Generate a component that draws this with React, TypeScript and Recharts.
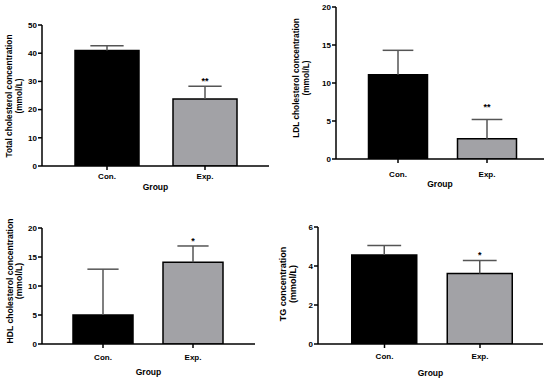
import { BarChart, Bar, XAxis, YAxis, LabelList, Cell } from "recharts";

const groups = ["Con.", "Exp."];

const totalMean = [41.0, 23.8];
const totalSd = [1.6, 4.5];
const totalSig = ["", "**"];

const ldlMean = [11.1, 2.65];
const ldlSd = [3.2, 2.55];
const ldlSig = ["", "**"];

const hdlMean = [5.0, 14.1];
const hdlSd = [7.9, 2.8];
const hdlSig = ["", "*"];

const tgMean = [4.57, 3.62];
const tgSd = [0.48, 0.66];
const tgSig = ["", "*"];

const totalTicks = [0, 10, 20, 30, 40, 50];
const ldlTicks = [0, 5, 10, 15, 20];
const hdlTicks = [0, 5, 10, 15, 20];
const tgTicks = [0, 2, 4, 6];

const FONT = "'Liberation Sans', Arial, Helvetica, sans-serif";
const barFills = ["#000000", "#a2a2a6"];

const makeRows = (mean: number[], sd: number[], sig: string[]) =>
  groups.map((g, i) => ({ group: g, mean: mean[i], sd: sd[i], sig: sig[i] }));

// error bar drawn on the stacked "sd" segment (top = mean + sd)
const ErrShape = (props: any) => {
  const { x, y, width, height } = props;
  const cx = x + width / 2;
  const half = width * 0.26;
  return (
    <g stroke="#555" strokeWidth={1.5}>
      <line x1={cx} x2={cx} y1={y} y2={y + height} />
      <line x1={cx - half} x2={cx + half} y1={y} y2={y} />
    </g>
  );
};

const YLabel = ({ lines, xs, cy, size }: any) => (
  <g>
    {lines.map((t: string, i: number) => (
      <text
        key={i}
        x={xs[i]}
        y={cy}
        transform={`rotate(-90 ${xs[i]} ${cy})`}
        textAnchor="middle"
        dominantBaseline="central"
        fontFamily={FONT}
        fontWeight="bold"
        fontSize={size}
        fill="#000"
      >
        {t}
      </text>
    ))}
  </g>
);

const GroupLabel = ({ gx, gy }: any) => (
  <text x={gx} y={gy} textAnchor="middle" fontFamily={FONT} fontWeight="bold" fontSize={8.5} fill="#000">
    Group
  </text>
);

type PanelProps = {
  left: number;
  top: number;
  axisX: number;
  plotTop: number;
  plotBottom: number;
  plotRight: number;
  pad: [number, number];
  barSize: number;
  domain: [number, number];
  ticks: number[];
  rows: any[];
  ylines: string[];
  ylineX: number[];
  ylabelY: number;
  ylabelSize: number;
  tickMargin: number;
  groupDy: number;
  starGap: number;
};

const W = 275;
const H = 200;
const XH = 40;

const Panel = (p: PanelProps) => {
  const margin = {
    top: p.plotTop - p.top,
    right: p.left + W - p.plotRight,
    left: 0,
    bottom: H - (p.plotBottom - p.top) - XH,
  };
  const tickStyle = { fontSize: 8, fontWeight: "bold", fill: "#000", fontFamily: FONT };
  return (
    <div style={{ position: "absolute", left: p.left, top: p.top, width: W, height: H }}>
      <BarChart width={W} height={H} data={p.rows} margin={margin}>
        <XAxis
          dataKey="group"
          type="category"
          padding={{ left: p.pad[0], right: p.pad[1] }}
          height={XH}
          tickSize={4}
          tickMargin={p.tickMargin}
          axisLine={{ stroke: "#000", strokeWidth: 1.5 }}
          tickLine={{ stroke: "#000", strokeWidth: 1.5 }}
          tick={tickStyle}
          label={<GroupLabel gx={(p.axisX + p.plotRight) / 2 - p.left} gy={p.plotBottom - p.top + p.groupDy} />}
        />
        <YAxis
          type="number"
          domain={p.domain}
          ticks={p.ticks}
          width={p.axisX - p.left}
          tickSize={4}
          tickMargin={1}
          axisLine={{ stroke: "#000", strokeWidth: 1.5 }}
          tickLine={{ stroke: "#000", strokeWidth: 1.5 }}
          tick={tickStyle}
          allowDataOverflow
          label={
            <YLabel
              lines={p.ylines}
              xs={p.ylineX.map((v) => v - p.left)}
              cy={p.ylabelY - p.top}
              size={p.ylabelSize}
            />
          }
        />
        <Bar dataKey="mean" stackId="s" barSize={p.barSize} stroke="#000" strokeWidth={1.5} isAnimationActive={false}>
          {p.rows.map((_, i) => (
            <Cell key={i} fill={barFills[i]} />
          ))}
        </Bar>
        <Bar dataKey="sd" stackId="s" barSize={p.barSize} shape={ErrShape} isAnimationActive={false}>
          <LabelList
            dataKey="sig"
            content={(lp: any) => (
              <text
                x={lp.x + lp.width / 2}
                y={lp.y - p.starGap + 5}
                textAnchor="middle"
                fontFamily={FONT}
                fontWeight="bold"
                fontSize={9}
                fill="#000"
              >
                {lp.value}
              </text>
            )}
          />
        </Bar>
      </BarChart>
    </div>
  );
};

export default function App() {
  return (
    <div style={{ position: "absolute", left: 0, top: 0, width: 550, height: 379, background: "#fff", overflow: "hidden" }}>
      <Panel
        left={0}
        top={0}
        axisX={42}
        plotTop={25}
        plotBottom={166}
        plotRight={269}
        pad={[16, 15]}
        barSize={64}
        domain={[0, 50]}
        ticks={totalTicks}
        rows={makeRows(totalMean, totalSd, totalSig)}
        ylines={["Total cholesterol concentration", "(mmol/L)"]}
        ylineX={[9, 19]}
        ylabelY={96}
        ylabelSize={8.3}
        tickMargin={3}
        groupDy={23.5}
        starGap={7.5}
      />
      <Panel
        left={275}
        top={0}
        axisX={336}
        plotTop={7}
        plotBottom={159}
        plotRight={544}
        pad={[17.5, 12.5]}
        barSize={59}
        domain={[0, 20]}
        ticks={ldlTicks}
        rows={makeRows(ldlMean, ldlSd, ldlSig)}
        ylines={["LDL cholesterol concentration", "(mmol/L)"]}
        ylineX={[296, 306]}
        ylabelY={78}
        ylabelSize={8.3}
        tickMargin={8}
        groupDy={28}
        starGap={14}
      />
      <Panel
        left={0}
        top={190}
        axisX={42}
        plotTop={228}
        plotBottom={344}
        plotRight={255}
        pad={[16, 17]}
        barSize={60}
        domain={[0, 20]}
        ticks={hdlTicks}
        rows={makeRows(hdlMean, hdlSd, hdlSig)}
        ylines={["HDL cholesterol concentration", "(mmol/L)"]}
        ylineX={[10, 19]}
        ylabelY={281}
        ylabelSize={8.6}
        tickMargin={6}
        groupDy={31}
        starGap={7}
      />
      <Panel
        left={275}
        top={190}
        axisX={318}
        plotTop={227}
        plotBottom={344}
        plotRight={543}
        pad={[18.75, 15.25]}
        barSize={65}
        domain={[0, 6]}
        ticks={tgTicks}
        rows={makeRows(tgMean, tgSd, tgSig)}
        ylines={["TG concentration", "(mmol/L)"]}
        ylineX={[283, 293]}
        ylabelY={284}
        ylabelSize={9}
        tickMargin={5.5}
        groupDy={31.5}
        starGap={8}
      />
    </div>
  );
}
